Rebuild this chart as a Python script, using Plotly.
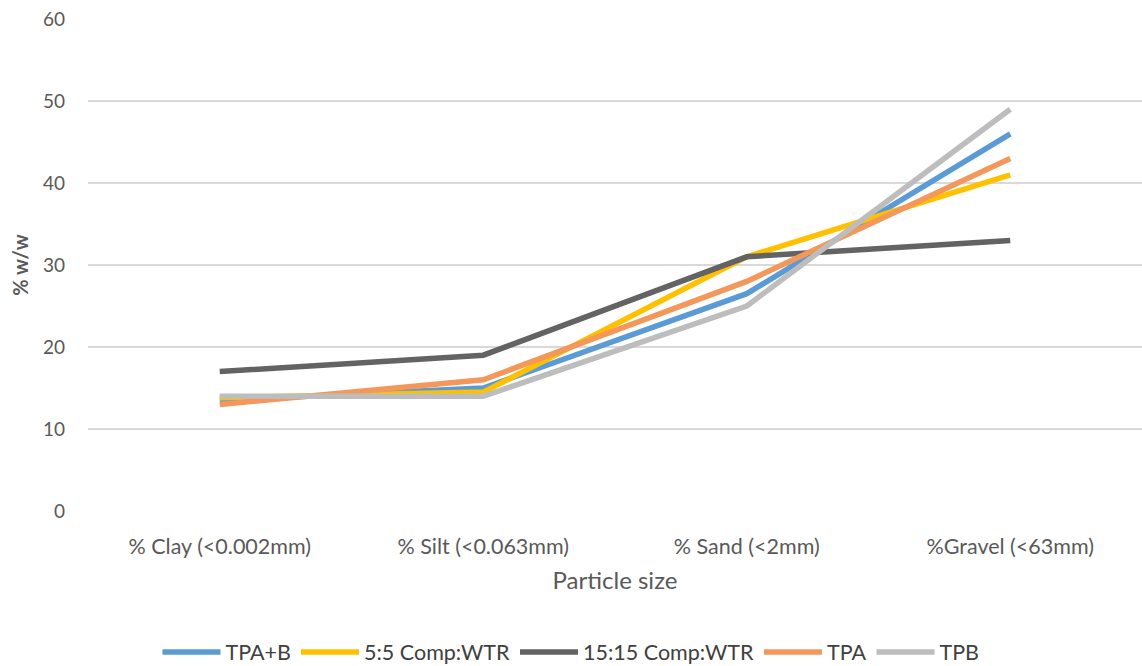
import plotly.graph_objects as go

categories = ["% Clay (<0.002mm)", "% Silt (<0.063mm)", "% Sand (<2mm)", "%Gravel (<63mm)"]
series_names = ["TPA+B", "5:5 Comp:WTR", "15:15 Comp:WTR", "TPA", "TPB"]
tpa_b = [13.5, 15, 26.5, 46]
comp_5_5 = [13.8, 14.5, 31, 41]
comp_15_15 = [17, 19, 31, 33]
tpa = [13, 16, 28, 43]
tpb = [14, 14, 25, 49]
y_ticks = [0, 10, 20, 30, 40, 50, 60]

colors = ["#5B9BD5", "#FFC000", "#636363", "#F4975A", "#BDBDBD"]
values = [tpa_b, comp_5_5, comp_15_15, tpa, tpb]

fig = go.Figure()
for name, vals, col in zip(series_names, values, colors):
    fig.add_trace(go.Scatter(x=categories, y=vals, name=name, mode="lines",
                             line=dict(color=col, width=5.5)))

font = "Lato, 'Open Sans', sans-serif"
fig.update_layout(
    width=1142, height=666,
    paper_bgcolor="white", plot_bgcolor="white",
    margin=dict(l=88, r=0, t=19, b=155),
    font=dict(family=font, color="#595959", size=19),
    xaxis=dict(type="category", range=[-0.5, 3.5], automargin=False,
               showgrid=False, showline=False, zeroline=False,
               ticks="", ticklabelstandoff=20,
               tickfont=dict(size=21.5, color="#595959"),
               title=dict(text="Particle size", font=dict(size=24, color="#595959"), standoff=14)),
    yaxis=dict(range=[0, 60], tickvals=y_ticks, showgrid=True, gridcolor="#D9D9D9", gridwidth=2,
               automargin=False,
               zeroline=False, showline=False, ticks="", ticklabelstandoff=22,
               tickfont=dict(size=19, color="#595959"),
               title=dict(text="<b>% w/w</b>", font=dict(size=20, color="#595959"), standoff=8)),
    legend=dict(orientation="h", x=0.5, xanchor="center", xref="container",
                y=0.021, yanchor="middle", yref="container",
                font=dict(size=21.5, color="#404040"), itemwidth=58, tracegroupgap=0),
    showlegend=True,
)

fig.write_html("out.html", config={"displayModeBar": False},
               post_script="document.body.style.margin='0';document.body.style.overflow='hidden';")
